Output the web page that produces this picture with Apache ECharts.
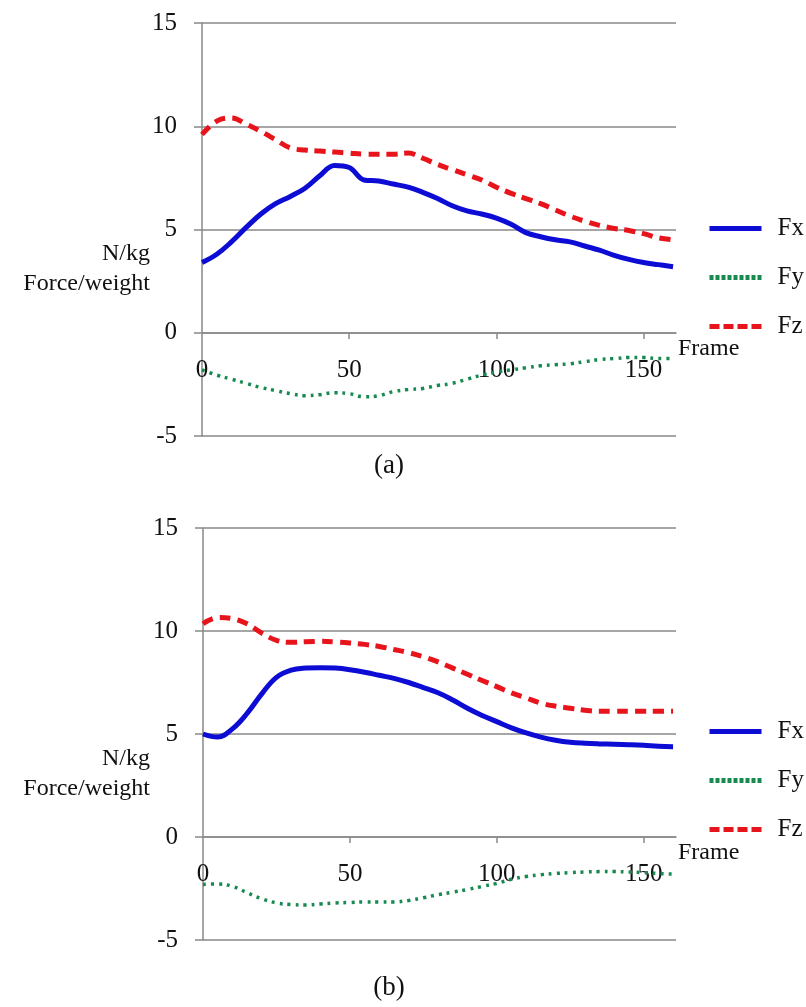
<!DOCTYPE html>
<html>
<head>
<meta charset="utf-8">
<script src="https://cdn.jsdelivr.net/npm/echarts@6/dist/echarts.min.js"></script>
<style>
html, body { margin: 0; padding: 0; background: #fff; }
#main { width: 806px; height: 1007px; }
</style>
</head>
<body>
<div id="main"></div>
<script>
// frames sampled every 5
var frames = [0, 5, 10, 15, 20, 25, 30, 35, 40, 45, 50, 55, 60, 65, 70, 75, 80,
    85, 90, 95, 100, 105, 110, 115, 120, 125, 130, 135, 140, 145, 150, 155, 160];

// (a)
var fxA = [3.4, 3.8, 4.4, 5.1, 5.75, 6.25, 6.6, 7.0, 7.6, 8.1, 8.0, 7.4, 7.35, 7.2, 7.05, 6.8, 6.5,
    6.15, 5.9, 5.75, 5.55, 5.25, 4.85, 4.65, 4.5, 4.4, 4.2, 4.0, 3.75, 3.55, 3.4, 3.3, 3.2];
var fyA = [-1.8, -2.05, -2.25, -2.45, -2.65, -2.8, -2.95, -3.05, -3.0, -2.9, -2.95, -3.1, -3.05, -2.85, -2.75, -2.7, -2.55,
    -2.45, -2.25, -2.05, -1.9, -1.8, -1.7, -1.6, -1.55, -1.5, -1.4, -1.3, -1.25, -1.2, -1.2, -1.25, -1.25];
var fzA = [9.6, 10.25, 10.4, 10.1, 9.75, 9.35, 8.95, 8.85, 8.8, 8.75, 8.7, 8.65, 8.65, 8.65, 8.7, 8.45, 8.15,
    7.9, 7.65, 7.4, 7.05, 6.75, 6.5, 6.25, 5.95, 5.65, 5.4, 5.2, 5.05, 4.95, 4.8, 4.6, 4.5];

// (b)
var fxB = [5.0, 4.85, 5.25, 6.0, 6.95, 7.75, 8.1, 8.2, 8.22, 8.2, 8.12, 8.0, 7.85, 7.7, 7.5, 7.25, 7.0,
    6.65, 6.25, 5.9, 5.6, 5.3, 5.05, 4.85, 4.7, 4.6, 4.55, 4.52, 4.5, 4.48, 4.45, 4.4, 4.38];
var fyB = [-2.3, -2.28, -2.4, -2.7, -3.0, -3.2, -3.28, -3.3, -3.25, -3.2, -3.18, -3.15, -3.15, -3.15, -3.08, -2.95, -2.8,
    -2.68, -2.55, -2.4, -2.25, -2.05, -1.92, -1.83, -1.77, -1.73, -1.7, -1.68, -1.68, -1.7, -1.73, -1.77, -1.8];
var fzB = [10.35, 10.65, 10.6, 10.35, 9.9, 9.55, 9.45, 9.48, 9.5, 9.47, 9.42, 9.35, 9.25, 9.1, 8.95, 8.75, 8.5,
    8.2, 7.9, 7.6, 7.3, 7.0, 6.75, 6.5, 6.35, 6.25, 6.15, 6.1, 6.1, 6.1, 6.1, 6.1, 6.1];

var seriesNames = ['Fx', 'Fy', 'Fz'];
var xTickLabels = [0, 50, 100, 150];
var captions = ['(a)', '(b)'];

var FONT = '"Liberation Serif", "Times New Roman", serif';
var gridColor = '#898989';

function pairs(vals) {
    var out = [];
    for (var i = 0; i < frames.length; i++) {
        out.push([frames[i], vals[i]]);
    }
    return out;
}

var lineStyles = [
    { color: '#0c0cd4', width: 5, type: 'solid' },
    { color: '#178a50', width: 3.5, type: [3, 5] },
    { color: '#e8141c', width: 5, type: [11, 7] }
];
// legend swatches are a bit denser than the plotted lines
var legendLines = [
    { color: '#0c0cd4', width: 5, type: 'solid' },
    { color: '#178a50', width: 5, type: [4, 2] },
    { color: '#e8141c', width: 5, type: [10, 4] }
];

function xAxisFor(idx) {
    return {
        type: 'value',
        gridIndex: idx,
        min: 0,
        max: 161,
        interval: 50,
        offset: -103,
        name: 'Frame',
        nameLocation: 'end',
        nameGap: 2,
        nameTextStyle: { fontFamily: FONT, fontSize: 24, color: '#111', verticalAlign: 'top', padding: [4, 0, 0, 0] },
        axisLine: { onZero: false, lineStyle: { color: gridColor, width: 1.5 } },
        axisTick: { show: true, length: 6, customValues: [50, 100, 150], lineStyle: { color: gridColor, width: 1.5 } },
        axisLabel: { customValues: xTickLabels, margin: 25, fontFamily: FONT, fontSize: 25, color: '#111' },
        splitLine: { show: false }
    };
}

function yAxisFor(idx) {
    return {
        type: 'value',
        gridIndex: idx,
        min: -5,
        max: 15,
        interval: 5,
        axisLine: { show: true, lineStyle: { color: gridColor, width: 1.5 } },
        axisTick: { show: true, length: 8, lineStyle: { color: gridColor, width: 1.5 } },
        axisLabel: { margin: 25, fontFamily: FONT, fontSize: 25, color: '#111' },
        splitLine: { show: true, lineStyle: { color: gridColor, width: 1.5 } }
    };
}

var allData = [[fxA, fyA, fzA], [fxB, fyB, fzB]];
var series = [];
for (var g = 0; g < 2; g++) {
    for (var s = 0; s < 3; s++) {
        series.push({
            name: seriesNames[s],
            type: 'line',
            xAxisIndex: g,
            yAxisIndex: g,
            smooth: 0.4,
            symbol: 'none',
            lineStyle: lineStyles[s],
            itemStyle: { color: lineStyles[s].color },
            data: pairs(allData[g][s])
        });
    }
}

function legendFor(top) {
    var items = [];
    for (var i = 0; i < seriesNames.length; i++) {
        items.push({ name: seriesNames[i], lineStyle: legendLines[i], itemStyle: { opacity: 0 } });
    }
    return {
        orient: 'vertical',
        left: 707,
        top: top,
        padding: 0,
        itemWidth: 52,
        itemHeight: 12,
        itemGap: 24,
        itemStyle: { opacity: 0 },
        data: items,
        textStyle: { fontFamily: FONT, fontSize: 25, color: '#111', lineHeight: 25, padding: [0, 0, 0, 11] }
    };
}

var myChart = echarts.init(document.getElementById('main'));
var option = {
    backgroundColor: '#fff',
    animation: false,
    grid: [
        { left: 202, right: 130, top: 23, height: 413 },
        { left: 203, right: 130, top: 528, height: 412 }
    ],
    xAxis: [xAxisFor(0), xAxisFor(1)],
    yAxis: [yAxisFor(0), yAxisFor(1)],
    legend: [legendFor(216), legendFor(719)],
    title: [
        { text: captions[0], left: 384, top: 447, textAlign: 'center', textStyle: { fontFamily: FONT, fontSize: 27, fontWeight: 'normal', color: '#111' } },
        { text: captions[1], left: 384, top: 969, textAlign: 'center', textStyle: { fontFamily: FONT, fontSize: 27, fontWeight: 'normal', color: '#111' } }
    ],
    graphic: [
        { type: 'text', right: 656, top: 242, style: { text: 'N/kg', font: '24px "Liberation Serif"', fill: '#111' } },
        { type: 'text', right: 656, top: 272, style: { text: 'Force/weight', font: '24px "Liberation Serif"', fill: '#111' } },
        { type: 'text', right: 656, top: 747, style: { text: 'N/kg', font: '24px "Liberation Serif"', fill: '#111' } },
        { type: 'text', right: 656, top: 777, style: { text: 'Force/weight', font: '24px "Liberation Serif"', fill: '#111' } }
    ],
    series: series
};
myChart.setOption(option);
</script>
</body>
</html>
